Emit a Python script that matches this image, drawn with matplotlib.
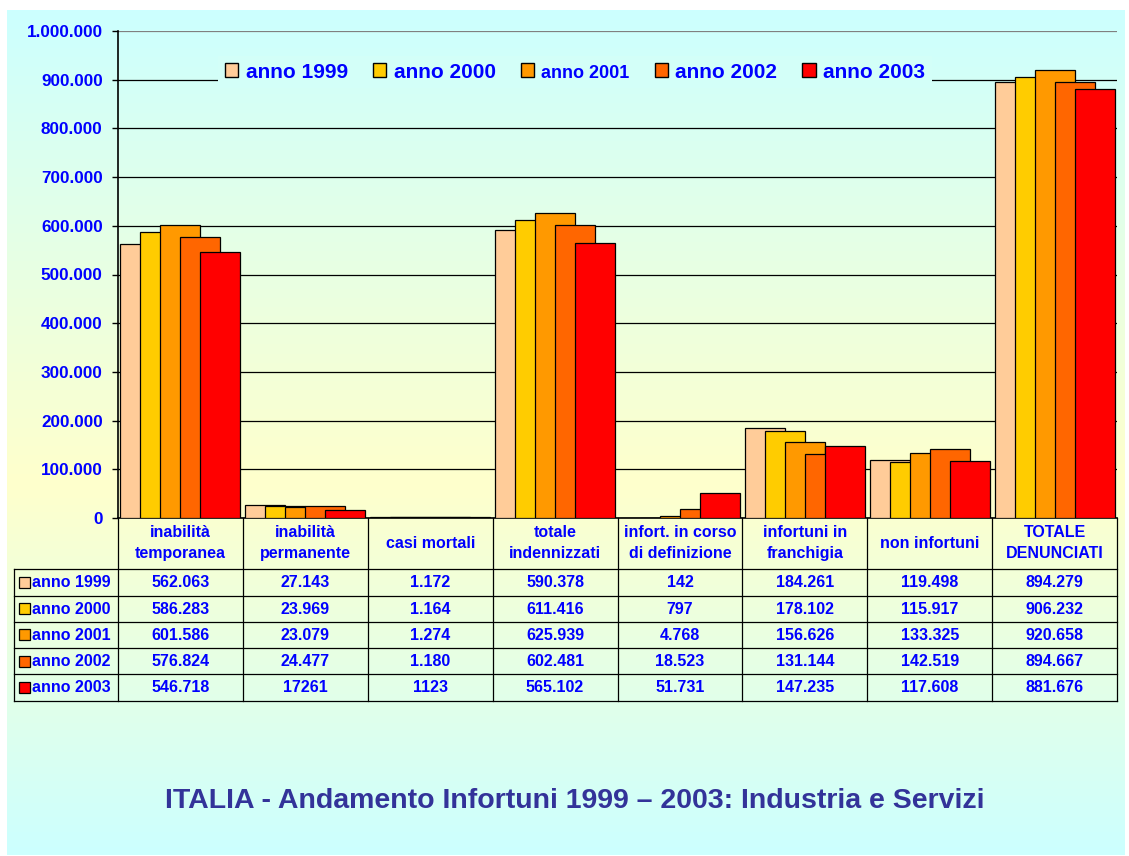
import numpy as np
import matplotlib.pyplot as plt
from matplotlib.patches import Patch, Rectangle

# categories shown in the table header / x axis
categories = ['inabilità\ntemporanea', 'inabilità\npermanente', 'casi mortali',
              'totale\nindennizzati', 'infort. in corso\ndi definizione',
              'infortuni in\nfranchigia', 'non infortuni', 'TOTALE\nDENUNCIATI']
years = ['anno 1999', 'anno 2000', 'anno 2001', 'anno 2002', 'anno 2003']
colors = ['#FFCC99', '#FFCC00', '#FF9900', '#FF6600', '#FF0000']

# table cells as printed in the chart
cells_1999 = ['562.063', '27.143', '1.172', '590.378', '142', '184.261', '119.498', '894.279']
cells_2000 = ['586.283', '23.969', '1.164', '611.416', '797', '178.102', '115.917', '906.232']
cells_2001 = ['601.586', '23.079', '1.274', '625.939', '4.768', '156.626', '133.325', '920.658']
cells_2002 = ['576.824', '24.477', '1.180', '602.481', '18.523', '131.144', '142.519', '894.667']
cells_2003 = ['546.718', '17261', '1123', '565.102', '51.731', '147.235', '117.608', '881.676']
cells = [cells_1999, cells_2000, cells_2001, cells_2002, cells_2003]

title = 'ITALIA - Andamento Infortuni 1999 – 2003: Industria e Servizi'
blue = '#0000FF'
font = 'Liberation Sans'

W, H = 1129, 856
fig = plt.figure(figsize=(W / 100, H / 100), dpi=100)
fig.patch.set_facecolor('white')

# gradient panel background (cyan -> pale yellow -> cyan)
top_px, bot_px = 10, 855
cyan = np.array([0.80, 1.0, 1.0])
yellow = np.array([1.0, 1.0, 0.80])
stops = [0, 0.56, 1]

def grad_color(t):
    return np.array([np.interp(t, stops, [cyan[k], yellow[k], cyan[k]]) for k in range(3)]).T

bg = fig.add_axes([7 / W, 1 - bot_px / H, (1125 - 7) / W, (bot_px - top_px) / H])
t = np.linspace(0, 1, 400)
img = grad_color(t)[:, None, :]
bg.imshow(img, aspect='auto', extent=[0, 1, 0, 1], origin='upper')
bg.axis('off')

# main bar axes
ax = fig.add_axes([118 / W, 1 - 518 / H, (1117 - 118) / W, (518 - 31) / H])
ax.set_facecolor('none')
x = np.arange(len(categories))
step = 0.16
for j, (yr, row) in enumerate(zip(years, cells)):
    vals = [int(s.replace('.', '')) for s in row]
    ax.bar(x + 0.02 + j * step, vals, width=2 * step, align='edge',
           color=colors[j], edgecolor='black', linewidth=0.9, zorder=3 + j)

ax.set_xlim(0, len(categories))
ax.set_ylim(0, 1_000_000)
yt = np.arange(0, 1_000_001, 100_000)
ax.set_yticks(yt)
ax.set_yticklabels([f'{v:,}'.replace(',', '.') for v in yt],
                   fontsize=12.3, fontweight='bold', color=blue, family=font)
ax.set_xticks([])
ax.tick_params(axis='y', length=4, width=1, pad=7, color='black')
ax.yaxis.grid(True, color='black', linewidth=0.9)
ax.set_axisbelow(True)
ax.get_ygridlines()[-1].set_color('#808080')
ax.spines['right'].set_visible(False)
ax.spines['top'].set_visible(False)
ax.spines['left'].set_linewidth(1.2)
ax.spines['bottom'].set_linewidth(1.2)

leg_face = tuple(grad_color((72 - top_px) / (bot_px - top_px)))
handles = [Patch(facecolor=c, edgecolor='black', linewidth=1) for c in colors]
leg = ax.legend(handles, years, loc='center', bbox_to_anchor=(575 / W, 1 - 72 / H),
                bbox_transform=fig.transFigure, ncol=5, frameon=True,
                facecolor=leg_face, edgecolor='none', framealpha=1,
                prop={'family': font, 'weight': 'bold', 'size': 15},
                handlelength=0.65, handleheight=0.65, handletextpad=0.35,
                columnspacing=1.2, borderpad=0.3, fancybox=False)
leg.set_zorder(20)
for txt in leg.get_texts():
    txt.set_color(blue)
leg.get_texts()[2].set_fontsize(13)

# data table in pixel coordinates
tax = fig.add_axes([0, 0, 1, 1])
tax.set_facecolor('none')
tax.set_xlim(0, W)
tax.set_ylim(H, 0)
tax.axis('off')

col_edges = 118 + np.arange(len(categories) + 1) * (1117 - 118) / len(categories)
row_edges = [569, 595.5, 621.7, 648, 674, 701]
lc = dict(color='black', linewidth=0.9)
for xe in col_edges:
    tax.plot([xe, xe], [518, 701], **lc)
tax.plot([14, 14], [569, 701], **lc)
for ye in row_edges:
    tax.plot([14, 1117], [ye, ye], **lc)

tkw = dict(fontsize=11.5, fontweight='bold', color=blue, family=font,
           ha='center', va='center')
for i, name in enumerate(categories):
    cx = (col_edges[i] + col_edges[i + 1]) / 2
    tax.text(cx, 543, name, linespacing=1.45, **tkw)
for j, row in enumerate(cells):
    cy = (row_edges[j] + row_edges[j + 1]) / 2
    tax.add_patch(Rectangle((18.5, cy - 5.5), 11, 11, facecolor=colors[j],
                            edgecolor='black', linewidth=0.9))
    tax.text(32, cy + 0.5, years[j], fontsize=11.5, fontweight='bold', color=blue,
             family=font, ha='left', va='center')
    for i, s in enumerate(row):
        cx = (col_edges[i] + col_edges[i + 1]) / 2
        tax.text(cx, cy + 0.5, s, **tkw)

tax.text(575, 801, title, fontsize=20.5, fontweight='bold', color='#333399',
         family=font, ha='center', va='center')

fig.savefig('out.png', dpi=100)
